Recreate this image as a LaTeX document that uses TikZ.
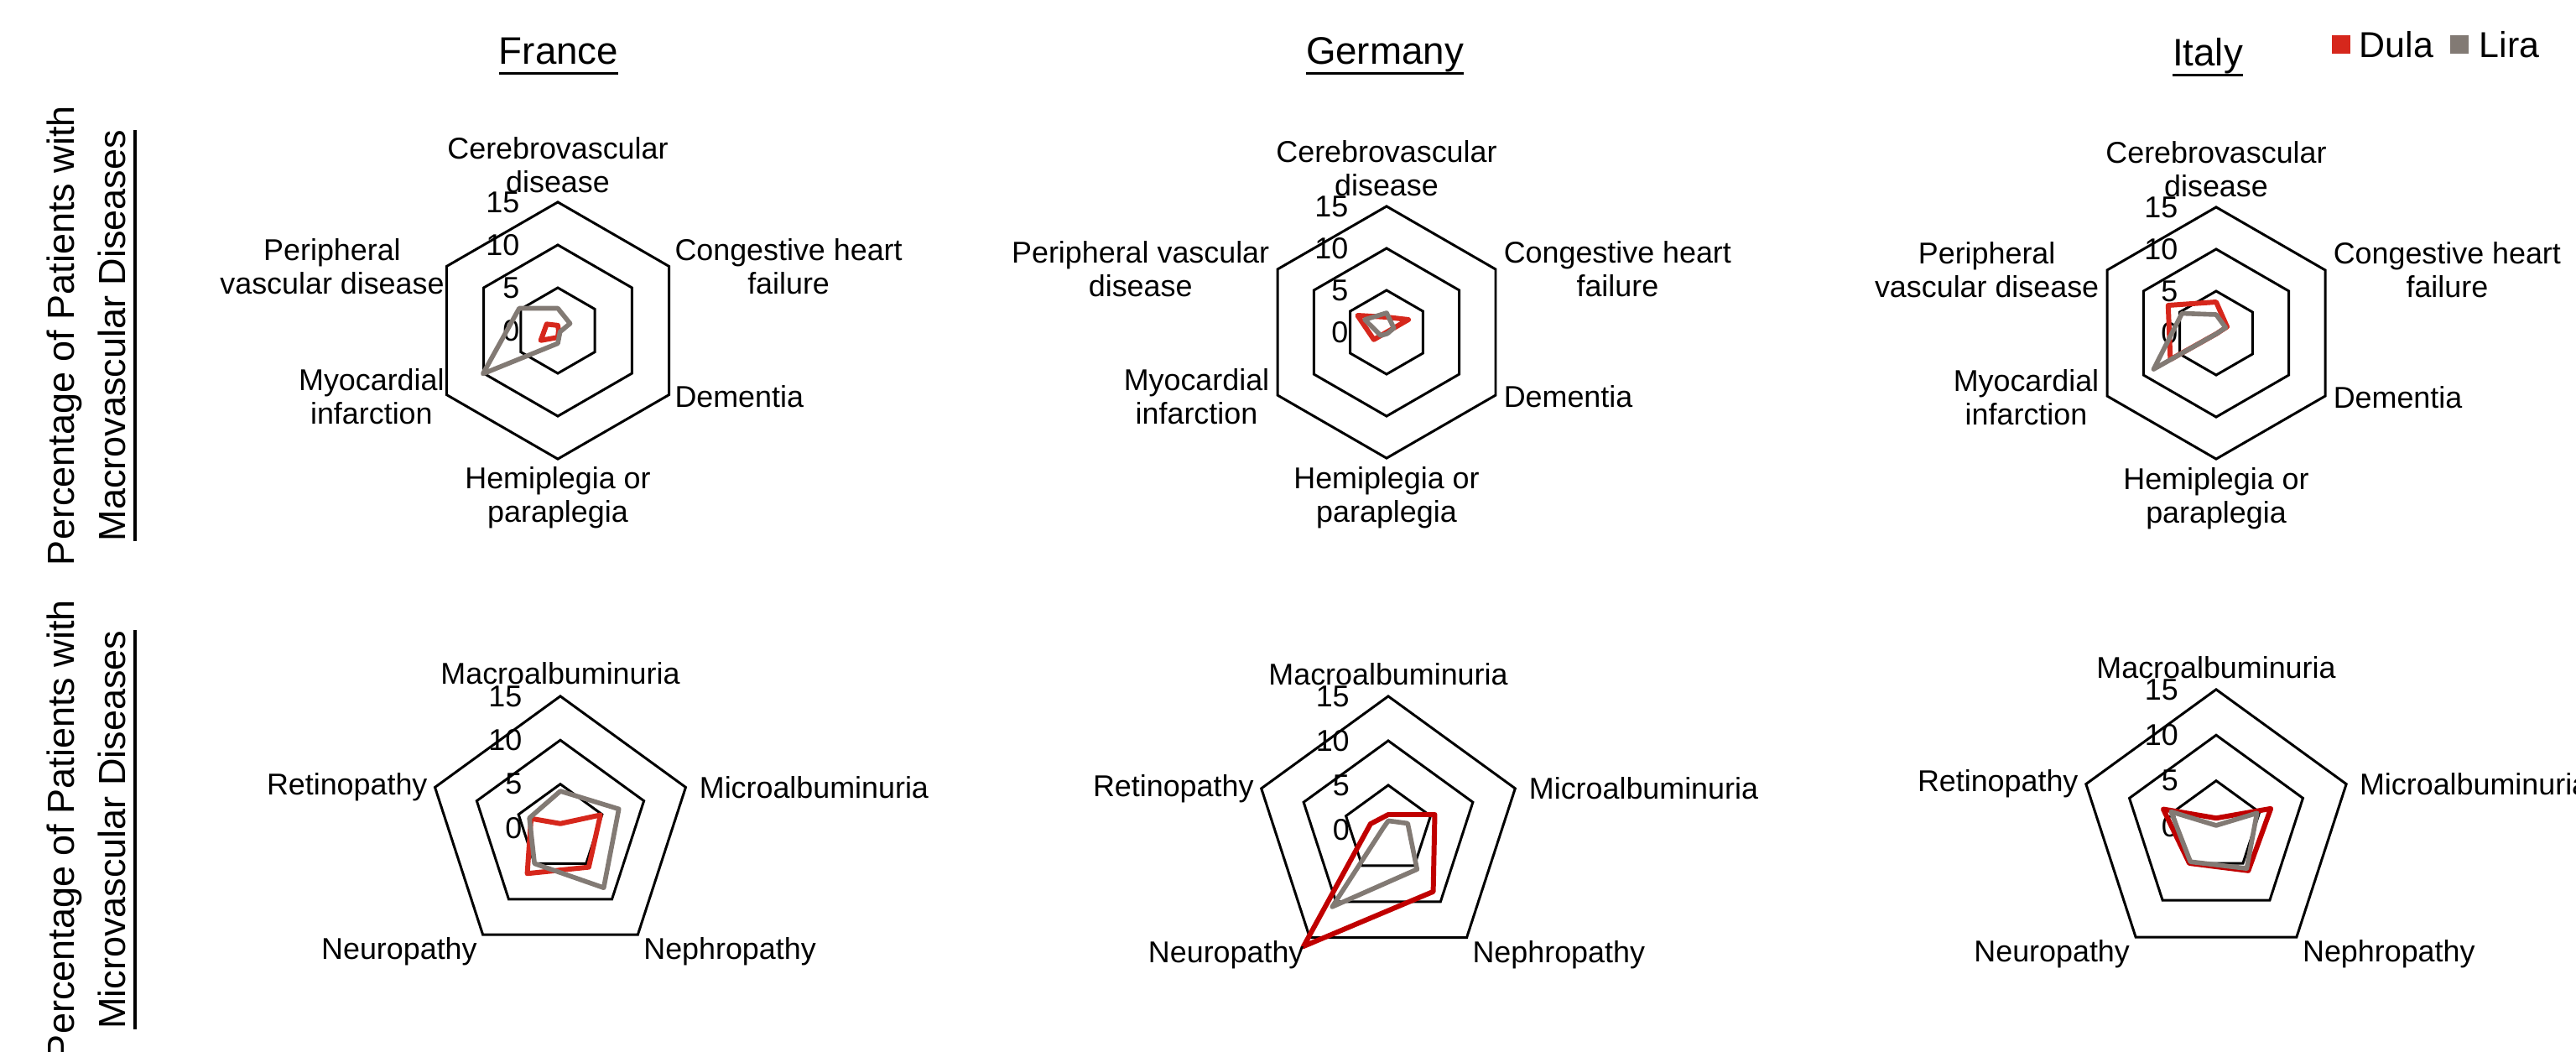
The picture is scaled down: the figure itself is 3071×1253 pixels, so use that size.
\documentclass[tikz,border=0pt]{standalone}
\usepackage{fontspec}
\setmainfont{Liberation Sans}
\usetikzlibrary{calc,positioning}

\definecolor{dula}{RGB}{214,39,28}
\definecolor{duladark}{RGB}{192,0,0}
\definecolor{lira}{RGB}{130,122,116}

% thicker underline than \underline
\newcommand{\ulbar}[1]{\setbox0=\hbox{#1}\rlap{\rule[-3.6pt]{\wd0}{0.9pt}}\box0}

\tikzset{
  ring/.style={draw=black,line width=0.85pt},
  dulaline/.style={draw=dula,line width=1.7pt,line join=round},
  liraline/.style={draw=lira,line width=1.6pt,line join=round},
  axlab/.style={font=\fontsize{10.2}{11.4}\selectfont,align=center,inner sep=0pt},
  ticklab/.style={font=\fontsize{10.2}{11.4}\selectfont,anchor=east,inner sep=0pt},
  country/.style={font=\fontsize{13}{15}\selectfont,inner sep=0pt,anchor=base},
  sidelab/.style={font=\fontsize{12.8}{17.6}\selectfont,align=center,rotate=90,inner sep=0pt},
  legtext/.style={font=\fontsize{12.2}{14}\selectfont,anchor=west,inner sep=0pt},
  legbox/.style={minimum size=0.22cm,inner sep=0pt},
}

\begin{document}
\begin{tikzpicture}[x=0.01cm,y=-0.01cm]
\useasboundingbox (0,0) rectangle (3071,1253);

% titles and legend
\node[country] (france) at (666,76) {\ulbar{France}};
\node[country] (germany) at (1651,76) {\ulbar{Germany}};
\node[country] (italy) at (2632,78) {\ulbar{Italy}};
\node[legbox,fill=dula] (dulabox) at (2791,53) {};
\node[legtext] (dulatxt) at (2812,53) {Dula};
\node[legbox,fill=lira] (lirabox) at (2932,53) {};
\node[legtext] (liratxt) at (2955,53) {Lira};

\node[sidelab] (macroside) at (109,400) {Percentage of Patients with\\\ulbar{Macrovascular Diseases}};
\node[sidelab] (microside) at (109,989) {Percentage of Patients with\\\ulbar{Microvascular Diseases}};

% France, macrovascular
\begin{scope}[shift={(665,394)},x=0.102cm,y=0.102cm]
  \foreach \r in {5,10,15}
    \draw[ring] (90:\r) -- (30:\r) -- (-30:\r) -- (-90:\r) -- (-150:\r) -- (150:\r) -- cycle;
  \foreach \r in {0,5,10,15}
    \node[ticklab] at (-4.4,\r) {\r};
  \draw[dulaline] (90:0.6) -- (30:0.1) -- (-30:0.1) -- (-90:0.8) -- (-150:2.3) -- (150:1.5) -- cycle;
  \draw[liraline] (90:2.6) -- (30:1.65) -- (-30:0.3) -- (-90:1.5) -- (-150:10.1) -- (150:5.2) -- cycle;
  \node[axlab] (fmcb) at (0,19.3) {Cerebrovascular\\disease};
  \node[axlab,anchor=west] (fmchf) at (13.6,7.5) {Congestive heart\\failure};
  \node[axlab,anchor=west] (fmdem) at (13.6,-7.7) {Dementia};
  \node[axlab] (fmhemi) at (0,-19.5) {Hemiplegia or\\paraplegia};
  \node[axlab,anchor=east] (fmmi) at (-13.2,-7.7) {Myocardial\\infarction};
  \node[axlab,anchor=east] (fmpvd) at (-13.2,7.5) {Peripheral\\vascular disease};
\end{scope}

% Germany, macrovascular
\begin{scope}[shift={(1653,396)},x=0.1cm,y=0.1cm]
  \foreach \r in {5,10,15}
    \draw[ring] (90:\r) -- (30:\r) -- (-30:\r) -- (-90:\r) -- (-150:\r) -- (150:\r) -- cycle;
  \foreach \r in {0,5,10,15}
    \node[ticklab] at (-4.5,\r) {\r};
  \draw[dulaline] (90:1.8) -- (30:3.0) -- (-30:0) -- (-90:0) -- (-150:1.75) -- (150:4.0) -- cycle;
  \draw[liraline] (90:2.3) -- (30:1.0) -- (-30:0.2) -- (-90:0.2) -- (-150:0.8) -- (150:3.0) -- cycle;
  \node[axlab] (gmcb) at (0,19.5) {Cerebrovascular\\disease};
  \node[axlab,anchor=west] (gmchf) at (13.9,7.5) {Congestive heart\\failure};
  \node[axlab,anchor=west] (gmdem) at (13.9,-7.7) {Dementia};
  \node[axlab] (gmhemi) at (0,-19.7) {Hemiplegia or\\paraplegia};
  \node[axlab,anchor=east] (gmmi) at (-13.9,-7.7) {Myocardial\\infarction};
  \node[axlab,anchor=east] (gmpvd) at (-13.9,7.5) {Peripheral vascular\\disease};
\end{scope}

% Italy, macrovascular
\begin{scope}[shift={(2642,397)},x=0.1cm,y=0.1cm]
  \foreach \r in {5,10,15}
    \draw[ring] (90:\r) -- (30:\r) -- (-30:\r) -- (-90:\r) -- (-150:\r) -- (150:\r) -- cycle;
  \foreach \r in {0,5,10,15}
    \node[ticklab] at (-4.5,\r) {\r};
  \draw[dulaline] (90:3.7) -- (30:1.5) -- (-30:0.1) -- (-90:0.1) -- (-150:6.3) -- (150:6.6) -- cycle;
  \draw[liraline] (90:2.2) -- (30:1.3) -- (-30:0.1) -- (-90:0.1) -- (-150:8.6) -- (150:4.7) -- cycle;
  \node[axlab] (imcb) at (0,19.5) {Cerebrovascular\\disease};
  \node[axlab,anchor=west] (imchf) at (13.9,7.5) {Congestive heart\\failure};
  \node[axlab,anchor=west] (imdem) at (13.9,-7.7) {Dementia};
  \node[axlab] (imhemi) at (0,-19.7) {Hemiplegia or\\paraplegia};
  \node[axlab,anchor=east] (immi) at (-13.9,-7.7) {Myocardial\\infarction};
  \node[axlab,anchor=east] (impvd) at (-13.9,7.5) {Peripheral\\vascular disease};
\end{scope}

% France, microvascular
\begin{scope}[shift={(668,987)},x=0.1047cm,y=0.1047cm]
  \foreach \r in {5,10,15}
    \draw[ring] (90:\r) -- (18:\r) -- (-54:\r) -- (-126:\r) -- (162:\r) -- cycle;
  \foreach \r in {0,5,10,15}
    \node[ticklab] at (-4.3,\r) {\r};
  \draw[dulaline] (90:0.5) -- (18:4.8) -- (-54:5.5) -- (-126:6.4) -- (162:3.5) -- cycle;
  \draw[liraline] (90:4.2) -- (18:7.0) -- (-54:8.4) -- (-126:5.0) -- (162:3.7) -- cycle;
  \node[axlab] (fumac) at (0,17.6) {Macroalbuminuria};
  \node[axlab,anchor=west] (fumic) at ($(18:15)+(1.5,0)$) {Microalbuminuria};
  \node[axlab,anchor=west] (fuoph) at ($(-54:15)+(0.6,-1.9)$) {Nephropathy};
  \node[axlab,anchor=east] (fuour) at ($(-126:15)+(-0.6,-1.9)$) {Neuropathy};
  \node[axlab,anchor=east] (furet) at ($(162:15)+(-0.8,0)$) {Retinopathy};
\end{scope}

% Germany, microvascular
\begin{scope}[shift={(1655,989)},x=0.106cm,y=0.106cm]
  \foreach \r in {5,10,15}
    \draw[ring] (90:\r) -- (18:\r) -- (-54:\r) -- (-126:\r) -- (162:\r) -- cycle;
  \foreach \r in {0,5,10,15}
    \node[ticklab] at (-4.3,\r) {\r};
  \draw[dulaline,draw=duladark] (90:1.7) -- (18:5.5) -- (-54:8.6) -- (-126:16.2) -- (162:2.1) -- cycle;
  \draw[liraline] (90:1.0) -- (18:2.3) -- (-54:5.5) -- (-126:10.7) -- (162:0.6) -- cycle;
  \node[axlab] (gumac) at (0,17.5) {Macroalbuminuria};
  \node[axlab,anchor=west] (gumic) at ($(18:15)+(1.5,0)$) {Microalbuminuria};
  \node[axlab,anchor=west] (guoph) at ($(-54:15)+(0.6,-1.9)$) {Nephropathy};
  \node[axlab,anchor=east] (guour) at ($(-126:15)+(-0.6,-1.9)$) {Neuropathy};
  \node[axlab,anchor=east] (guret) at ($(162:15)+(-0.8,0)$) {Retinopathy};
\end{scope}

% Italy, microvascular
\begin{scope}[shift={(2642,985)},x=0.1087cm,y=0.1087cm]
  \foreach \r in {5,10,15}
    \draw[ring] (90:\r) -- (18:\r) -- (-54:\r) -- (-126:\r) -- (162:\r) -- cycle;
  \foreach \r in {0,5,10,15}
    \node[ticklab] at (-4.1,\r) {\r};
  \draw[dulaline,draw=duladark] (90:0.9) -- (18:6.3) -- (-54:6.0) -- (-126:5.0) -- (162:6.1) -- cycle;
  \draw[liraline] (90:0.1) -- (18:4.7) -- (-54:5.7) -- (-126:4.8) -- (162:5.2) -- cycle;
  \node[axlab] (iumac) at (0,17.4) {Macroalbuminuria};
  \node[axlab,anchor=west] (iumic) at ($(18:15)+(1.4,0)$) {Microalbuminuria};
  \node[axlab,anchor=west] (iuoph) at ($(-54:15)+(0.6,-1.9)$) {Nephropathy};
  \node[axlab,anchor=east] (iuour) at ($(-126:15)+(-0.6,-1.9)$) {Neuropathy};
  \node[axlab,anchor=east] (iuret) at ($(162:15)+(-0.8,0)$) {Retinopathy};
\end{scope}
\end{tikzpicture}
\end{document}
